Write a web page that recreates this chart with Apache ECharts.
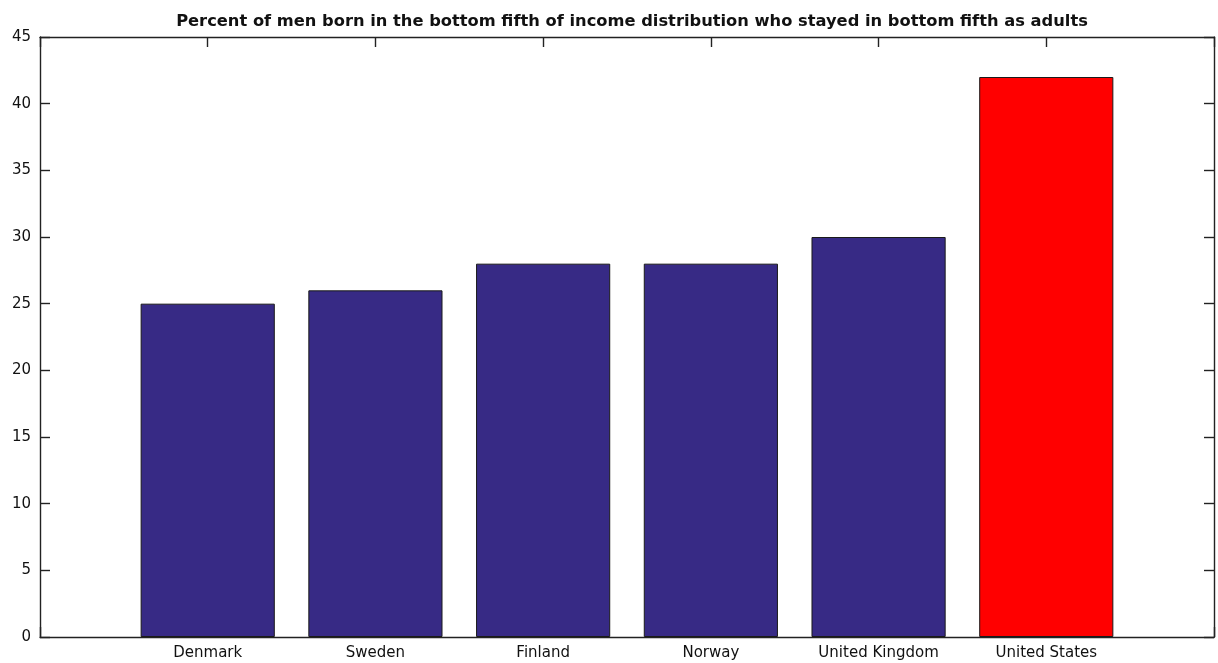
<!DOCTYPE html>
<html>
<head>
<meta charset="utf-8">
<script src="https://cdn.jsdelivr.net/npm/echarts@6/dist/echarts.min.js"></script>
<style>html,body{margin:0;padding:0;background:#fff}#c{width:1218px;height:663px}</style>
</head>
<body>
<div id="c"></div>
<script>
var titleText = 'Percent of men born in the bottom fifth of income distribution who stayed in bottom fifth as adults';
var categories = ['Denmark', 'Sweden', 'Finland', 'Norway', 'United Kingdom', 'United States'];
var values = [25, 26, 28, 28, 30, 42];
var barColors = ['#372a85', '#372a85', '#372a85', '#372a85', '#372a85', '#ff0000'];
var yTicks = [0, 5, 10, 15, 20, 25, 30, 35, 40, 45];

var chart = echarts.init(document.getElementById('c'));
var font = 'DejaVu Sans, Verdana, sans-serif';
var data = values.map(function (v, i) {
  return { value: [i + 1, v], itemStyle: { color: barColors[i] } };
});
var lineStyle = { color: '#222', width: 1.4 };
var tick = { show: true, inside: true, length: 10, lineStyle: lineStyle };
chart.setOption({
  animation: false,
  title: {
    text: titleText, left: 627, top: 9, textAlign: 'center',
    textStyle: { fontFamily: font, fontSize: 16.3, fontWeight: 'bold', color: '#111' }
  },
  grid: { left: 40, right: 4, top: 37, bottom: 26, containLabel: false },
  xAxis: [{
    type: 'value', min: 0, max: 7, interval: 1, position: 'bottom',
    axisLine: { show: true, onZero: false, lineStyle: lineStyle },
    axisTick: tick,
    splitLine: { show: false },
    axisLabel: {
      fontFamily: font, fontSize: 15, color: '#111', margin: 9,
      formatter: function (v) { return categories[v - 1] || ''; }
    }
  }, {
    type: 'value', min: 0, max: 7, interval: 1, position: 'top',
    axisLine: { show: true, onZero: false, lineStyle: lineStyle },
    axisTick: tick, splitLine: { show: false }, axisLabel: { show: false }
  }],
  yAxis: [{
    type: 'value', min: yTicks[0], max: yTicks[yTicks.length - 1], interval: 5,
    axisLine: { show: true, onZero: false, lineStyle: lineStyle },
    axisTick: tick, splitLine: { show: false },
    axisLabel: { fontFamily: font, fontSize: 15, color: '#111', margin: 9 }
  }, {
    type: 'value', min: yTicks[0], max: yTicks[yTicks.length - 1], interval: 5, position: 'right',
    axisLine: { show: true, onZero: false, lineStyle: lineStyle },
    axisTick: tick, splitLine: { show: false }, axisLabel: { show: false }
  }],
  series: [{
    type: 'bar', xAxisIndex: 0, yAxisIndex: 0,
    barWidth: '80%',
    itemStyle: { borderColor: '#1a1a1a', borderWidth: 1 },
    data: data
  }]
});
</script>
</body>
</html>
